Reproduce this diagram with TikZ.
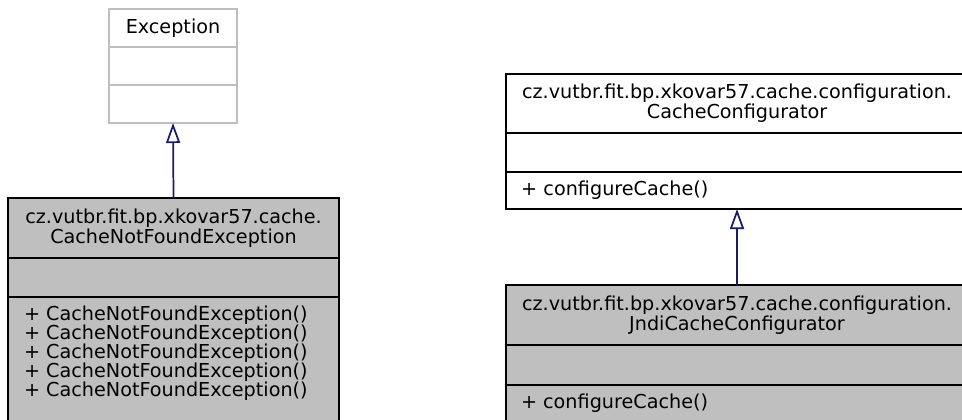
\documentclass[tikz,border=0pt]{standalone}
\usepackage{fontspec}
\setmainfont{DejaVu Sans}
\usepackage{xcolor}
\usetikzlibrary{positioning,arrows.meta}

\definecolor{classgray}{HTML}{BFBFBF}
\definecolor{edgeblue}{HTML}{191970}
\newdimen\px \px=0.75pt

\begin{document}
\begin{tikzpicture}[x=0.75pt, y=-0.75pt,
    every node/.style={font=\fontsize{14.4}{14.2}\selectfont, inner sep=0pt, outer sep=0pt},
    part/.style={draw=black, fill=classgray, line width=1.6\px},
    extpart/.style={draw=classgray, fill=white, line width=1.6\px},
    inherit/.style={draw=edgeblue, line width=1.3pt, -{Triangle[open, length=15pt, width=10.5pt, fill=white]}}]
            \clip (0,0) rectangle (962,419);

            % Exception (external base class)
            \node[extpart, minimum width=128\px, minimum height=38\px, anchor=north west] (excHead) at (109,9) {Exception};
            \node[extpart, minimum width=128\px, minimum height=38\px, below=0pt of excHead] (excAttr) {};
            \node[extpart, minimum width=128\px, minimum height=38\px, below=0pt of excAttr] (excOps) {};

            % CacheNotFoundException
            \node[part, minimum width=331\px, minimum height=60\px, anchor=north west, align=center] (cnfeHead) at (8,198)
                {cz.vutbr.fit.bp.xkovar57.cache.\\[1\px]CacheNotFoundException};
            \node[part, minimum width=331\px, minimum height=39\px, below=0pt of cnfeHead] (cnfeAttr) {};
            \node[part, inner xsep=16\px, inner ysep=9\px, below=0pt of cnfeAttr] (cnfeOps)
                {\parbox[c][130\px][t]{299\px}{+ CacheNotFoundException()\\
                                               + CacheNotFoundException()\\
                                               + CacheNotFoundException()\\
                                               + CacheNotFoundException()\\
                                               + CacheNotFoundException()}};

            % CacheConfigurator
            \node[part, fill=white, minimum width=462\px, minimum height=59\px, anchor=north west, align=center] (ccHead) at (506,74)
                {cz.vutbr.fit.bp.xkovar57.cache.configuration.\\[1\px]CacheConfigurator};
            \node[part, fill=white, minimum width=462\px, minimum height=39\px, below=0pt of ccHead] (ccAttr) {};
            \node[part, fill=white, minimum width=462\px, minimum height=37\px, inner xsep=15\px, text width=432\px, align=left, below=0pt of ccAttr] (ccOps)
                {+ configureCache()};

            % JndiCacheConfigurator
            \node[part, minimum width=462\px, minimum height=60\px, anchor=north west, align=center] (jndiHead) at (506,285)
                {cz.vutbr.fit.bp.xkovar57.cache.configuration.\\[1\px]JndiCacheConfigurator};
            \node[part, minimum width=462\px, minimum height=40\px, below=0pt of jndiHead] (jndiAttr) {};
            \node[part, inner xsep=15\px, inner ysep=9\px, below=0pt of jndiAttr] (jndiOps)
                {\parbox[c][60\px][t]{432\px}{+ configureCache()}};

            \draw[inherit] (cnfeHead.north) -- (excOps.south); % CacheNotFoundException -> Exception
            \draw[inherit] (jndiHead.north) -- (ccOps.south); % JndiCacheConfigurator -> CacheConfigurator
        \end{tikzpicture}
\end{document}
